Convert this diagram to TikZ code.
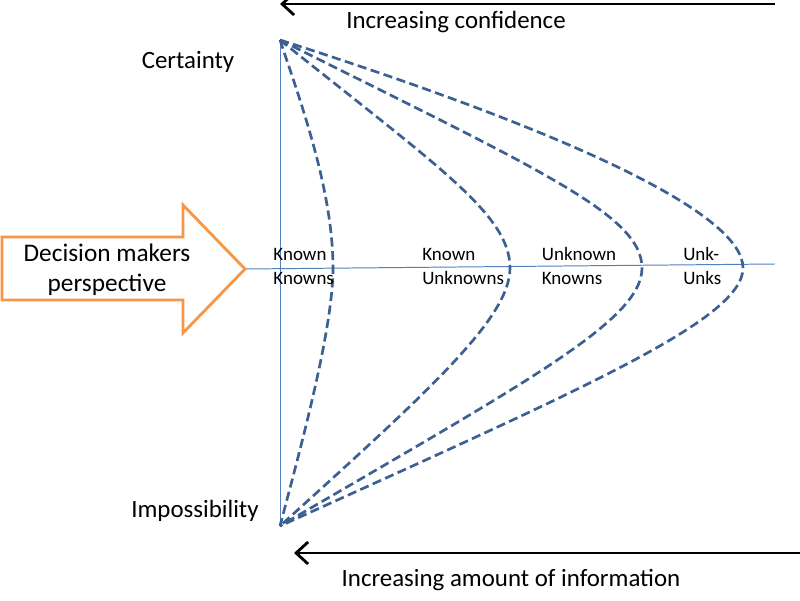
\documentclass[tikz,border=0pt]{standalone}
\usepackage{fontspec}
\setmainfont{Carlito}
\usetikzlibrary{arrows.meta}

\definecolor{curveblue}{HTML}{3B6091}
\definecolor{axisblue}{HTML}{4F81BD}
\definecolor{dmorange}{HTML}{F79646}

\tikzset{
  curve/.style={curveblue, line width=1.9pt, dash pattern=on 6.5pt off 3.2pt},
  axis/.style={axisblue, line width=0.7pt},
  trend/.style={black, line width=2pt, -{Straight Barb[length=3mm,width=5.5mm]}},
  biglabel/.style={font=\fontsize{17.7}{21}\selectfont, inner sep=0pt},
  quad/.style={font=\fontsize{13.5}{17}\selectfont, align=left, anchor=west, inner sep=0pt},
}

\begin{document}
\begin{tikzpicture}
\useasboundingbox (0,0) rectangle (20,15);

\coordinate (top) at (7,14);
\coordinate (bot) at (7,1.85);
\coordinate (tip) at (6.125,8.275);
\coordinate (axr) at (19.375,8.4);

\coordinate (p1) at (8.325,8.3);
\coordinate (p2) at (12.75,8.3);
\coordinate (p3) at (16.05,8.3);
\coordinate (p4) at (18.575,8.3);

\coordinate (conf0) at (19.375,14.9);
\coordinate (conf1) at (7,14.9);
\coordinate (info0) at (20,1.175);
\coordinate (info1) at (7.35,1.175);

% axes
\draw [axis] (top) -- (bot);
\draw [axis] (tip) -- (axr);

% decision makers arrow
\draw [dmorange, line width=2pt, fill=white] (0.05,9.075) -- (4.575,9.075) -- (4.575,9.875)
  -- (tip) -- (4.575,6.675) -- (4.575,7.5) -- (0.05,7.5) -- cycle;
\node [align=center, inner sep=0pt, font=\fontsize{18}{21.5}\selectfont] (dm) at (2.675,8.26)
  {Decision makers\\perspective};

% curves
\draw [curve] (top) .. controls (7.5,12.5) and (8.325,10.25) .. (p1)
  .. controls (8.325,6.75) and (7.5,3.75) .. (bot);
\draw [curve] (top) .. controls (11,10.8) and (12.75,9.625) .. (p2)
  .. controls (12.75,7.05) and (10.75,5.25) .. (bot);
\draw [curve] (top) .. controls (13.5,10.75) and (16.05,9.625) .. (p3)
  .. controls (16.05,7) and (13.25,5.5) .. (bot);
\draw [curve] (top) .. controls (14.5,11.6) and (18.575,9.625) .. (p4)
  .. controls (18.575,7) and (14.5,5.25) .. (bot);

\foreach \x/\t [count=\i] in {6.83/{Known\\Knowns}, 10.55/{Known\\Unknowns},
    13.54/{Unknown\\Knowns}, 17.075/{Unk-\\Unks}}
  \node [quad] (q\i) at (\x,8.34) {\t};

% trends
\draw [trend] (conf0) -- (conf1);
\draw [trend] (info0) -- (info1);
\node [biglabel] (conf) at (11.4,14.46) {Increasing confidence};
\node [biglabel] (info) at (12.775,0.495) {Increasing amount of information};

\node [biglabel] (cert) at (4.7,13.46) {Certainty};
\node [biglabel] (imp) at (4.875,2.22) {Impossibility};

\end{tikzpicture}
\end{document}
